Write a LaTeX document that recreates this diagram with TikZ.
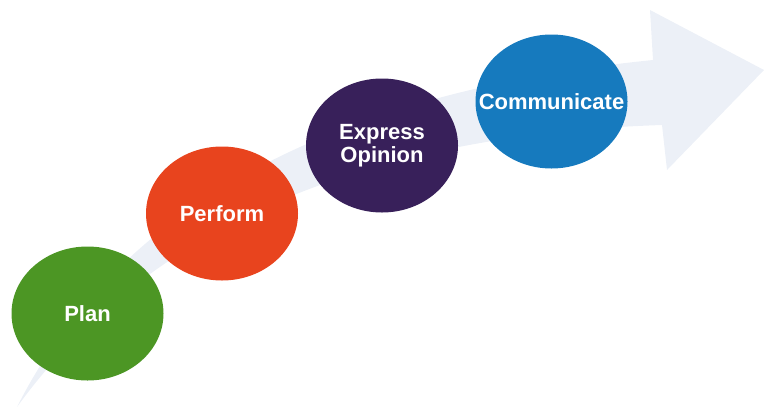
\documentclass[tikz,border=0pt]{standalone}
\usepackage{fontspec}
\setmainfont{Liberation Sans}
\usepackage{tikz}
\usetikzlibrary{shapes}

\definecolor{plangreen}{RGB}{76,150,36}
\definecolor{performred}{RGB}{232,68,30}
\definecolor{opinionpurple}{RGB}{56,32,90}
\definecolor{commblue}{RGB}{22,122,190}
\definecolor{arrowgray}{RGB}{236,240,247}

\tikzset{
    stage/.style={ellipse, minimum width=152pt, minimum height=134pt, inner sep=0pt},
    caption/.style={text=white, align=center, font=\fontsize{22}{23}\selectfont\bfseries}
}

\begin{document}
\begin{tikzpicture}[x=1pt, y=-1pt]
            \useasboundingbox (0,0) rectangle (765,413);

            % big arrow behind
            \coordinate (tail) at (17,407);
            \coordinate (upper) at (653,60);
            \coordinate (lower) at (662,125);
            \fill[arrowgray] (tail) .. controls (119,205) and (335,92) .. (upper)
                -- (650,10) -- (764,70) -- (667,170) -- (lower)
                .. controls (361,135) and (146,229) .. (tail) -- cycle;

            % stages
            \node[stage, fill=plangreen, label={[caption]center:Plan}] (plan) at (87.5,313.5) {};
            \node[stage, fill=performred, label={[caption]center:Perform}] (perform) at (222,213.5) {};
            \node[stage, fill=opinionpurple, label={[caption]center:Express\\Opinion}] (opinion) at (382,145.5) {};
            \node[stage, fill=commblue, label={[caption]center:Communicate}] (communicate) at (551.5,101.5) {};
        \end{tikzpicture}
\end{document}
